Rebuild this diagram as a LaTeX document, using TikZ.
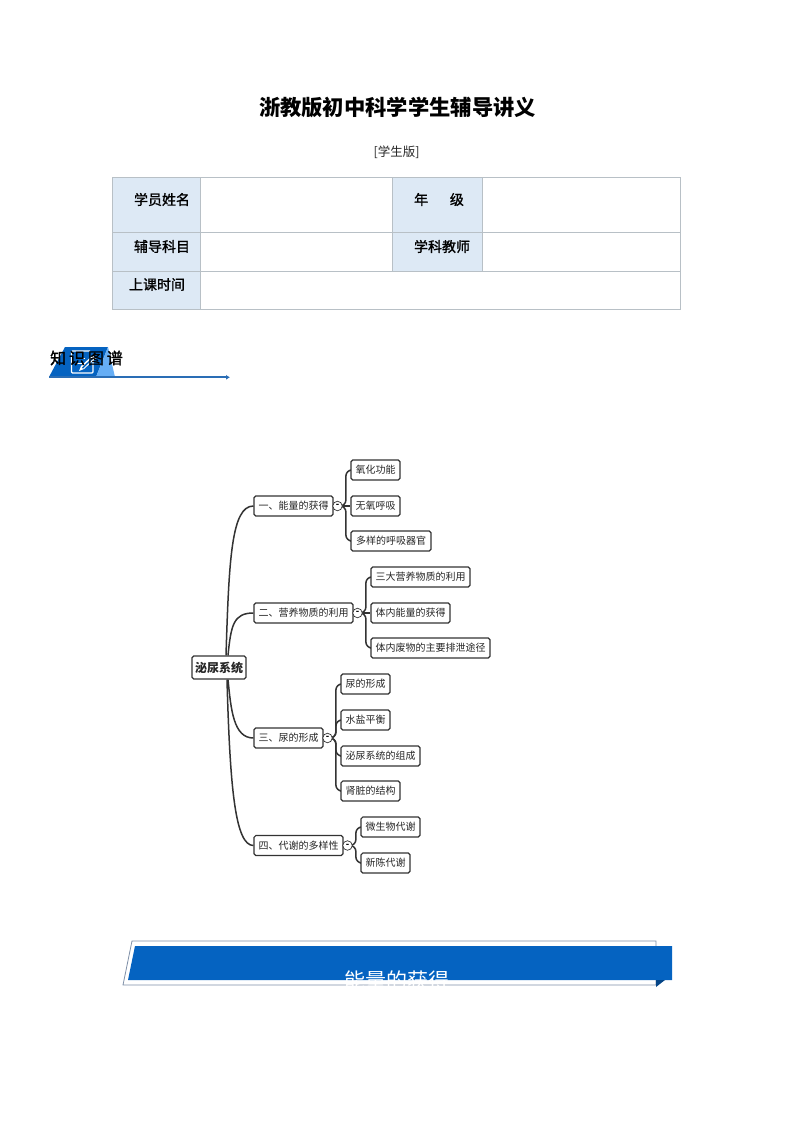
\documentclass[tikz,border=0pt]{standalone}
\usepackage{fontspec}
\setmainfont{Noto Sans CJK SC}
\newfontfamily\semibold[FakeBold=1.3]{Noto Sans CJK SC}
\usetikzlibrary{arrows.meta}
\pgfdeclarelayer{linklayer}
\pgfsetlayers{linklayer,main}
\definecolor{cellblue}{HTML}{DDE9F5}
\definecolor{rulegray}{HTML}{B8C0C6}
\definecolor{bannerblue}{HTML}{0563C1}
\definecolor{lightblue}{HTML}{66AEF5}
\definecolor{mapline}{HTML}{333333}
\definecolor{banneredge}{HTML}{7F90A8}
\definecolor{tagline}{HTML}{2A6DB5}
\tikzset{
  x=1pt,y=-1pt,
  lab/.style={font=\semibold\fontsize{14}{14}\selectfont,text=black,inner sep=0pt},
  mapbox/.style={draw=mapline,line width=1.15pt,rounded corners=1.8pt,fill=white,inner sep=0pt,
     font=\fontsize{10}{10}\selectfont,text=black!85,minimum height=20pt},
  rootbox/.style={mapbox,font=\fontsize{12}{12}\selectfont\bfseries,minimum height=23pt},
  toggle/.style={circle,draw=mapline,line width=.7pt,fill=white,minimum size=9.5pt,inner sep=0pt,font=\fontsize{9}{9}\selectfont\bfseries},
  link/.style={draw=mapline,line width=1.5pt},
  branch/.style={link,rounded corners=6pt},
  grid/.style={draw=rulegray,line width=1pt},
}
\begin{document}
\begin{tikzpicture}
\useasboundingbox (0,0) rectangle (794,1123);

% title
\node[inner sep=0pt,font=\fontsize{21.3}{22}\selectfont\bfseries] (title) at (397.5,107) {浙教版初中科学学生辅导讲义};
\node[inner sep=0pt,font=\fontsize{12.5}{13}\selectfont,text=black!85] (sub) at (396.5,152) {[学生版]};

% table
\fill[cellblue] (112,178) rectangle (200,309);
\fill[cellblue] (392,178) rectangle (482,271);
\draw[grid] (112,178) rectangle (680.5,309);
\draw[grid] (112,233) -- (680.5,233);
\draw[grid] (112,271) -- (680.5,271);
\draw[grid] (200,178) -- (200,309);
\draw[grid] (392,178) -- (392,271);
\draw[grid] (482,178) -- (482,271);
\node[lab] (t1) at (162,199.5) {学员姓名};
\node[lab] (t2) at (439,199.5) {年\hspace{1.55em}级};
\node[lab] (t3) at (162,246.5) {辅导科目};
\node[lab] (t4) at (442,246.5) {学科教师};
\node[lab] (t5) at (157,284.5) {上课时间};

% section tag
\fill[bannerblue] (49,377) -- (65,347) -- (108,347) -- (96,377) -- cycle;
\fill[lightblue] (96,377) -- (108,347) -- (115,377) -- cycle;
\draw[white,line width=1.4pt,rounded corners=1pt] (93,359) -- (93,373) -- (71.5,373) -- (71.5,351) -- (90,351);
\draw[white,line width=1pt] (76,358) -- (85,358) (76,363) -- (82,363);
\fill[white] (79,371) -- (81,366) -- (93,355) -- (96,358) -- (84,369) -- cycle;
\fill[bannerblue] (82,367.5) -- (92.5,357.5) -- (93.5,358.5) -- (83,368.5) -- cycle;
\coordinate (tagstart) at (49,377.3);
\coordinate (tagend) at (230,377.3);
\draw[draw=tagline,line width=2.2pt,-{Latex[length=4pt,width=5pt]}] (tagstart) -- (tagend);
\node[inner sep=0pt,font=\semibold\fontsize{16}{16}\selectfont,text=black] (tagtext) at (86.5,358) {知\hspace{.18em}识\hspace{.18em}图\hspace{.18em}谱};

% mind map
\node[rootbox,minimum width=54pt] (root) at (219,667.5) {泌尿系统};

\node[mapbox,minimum width=79pt] (n1) at (293.5,506) {一、能量的获得};
\node[mapbox,minimum width=99pt] (n2) at (303.5,613) {二、营养物质的利用};
\node[mapbox,minimum width=69pt] (n3) at (288.5,738) {三、尿的形成};
\node[mapbox,minimum width=89pt] (n4) at (298.5,845.5) {四、代谢的多样性};

\node[toggle] (s1) at (337.5,506) {-};
\node[toggle] (s2) at (357.5,613) {-};
\node[toggle] (s3) at (327.5,738) {-};
\node[toggle] (s4) at (347.5,845.5) {-};

\node[mapbox,minimum width=49pt] (a1) at (375.5,470) {氧化功能};
\node[mapbox,minimum width=49pt] (a2) at (375.5,506) {无氧呼吸};
\node[mapbox,minimum width=80pt] (a3) at (391,541) {多样的呼吸器官};

\node[mapbox,minimum width=99pt] (b1) at (420.5,577) {三大营养物质的利用};
\node[mapbox,minimum width=79pt] (b2) at (410.5,613) {体内能量的获得};
\node[mapbox,minimum width=119pt] (b3) at (430.5,648) {体内废物的主要排泄途径};

\node[mapbox,minimum width=49pt] (c1) at (365.5,684) {尿的形成};
\node[mapbox,minimum width=49pt] (c2) at (365.5,720) {水盐平衡};
\node[mapbox,minimum width=79pt] (c3) at (380.5,756) {泌尿系统的组成};
\node[mapbox,minimum width=59pt] (c4) at (370.5,791) {肾脏的结构};

\node[mapbox,minimum width=59pt] (d1) at (390.5,827) {微生物代谢};
\node[mapbox,minimum width=49pt] (d2) at (385.5,863) {新陈代谢};

\begin{pgfonlayer}{linklayer}
\fill[white] (0,0) rectangle (794,1123);
\draw[link] ([xshift=7pt]root.north) .. controls +(3,-96) and +(-22,0) .. (n1.west);
\draw[link] ([xshift=9pt]root.north) .. controls +(3,-30) and +(-20,0) .. (n2.west);
\draw[link] ([xshift=9pt]root.south) .. controls +(3,30) and +(-20,0) .. (n3.west);
\draw[link] ([xshift=8pt]root.south) .. controls +(3,110) and +(-18,0) .. (n4.west);

\draw[branch] (s1.east) -- ++(3.3,0) |- (a1.west);
\draw[link] (s1.east) -- (a2.west);
\draw[branch] (s1.east) -- ++(3.3,0) |- (a3.west);

\draw[branch] (s2.east) -- ++(3.3,0) |- (b1.west);
\draw[link] (s2.east) -- (b2.west);
\draw[branch] (s2.east) -- ++(3.3,0) |- (b3.west);

\draw[branch] (s3.east) -- ++(3.3,0) |- (c1.west);
\draw[branch] (s3.east) -- ++(3.3,0) |- (c2.west);
\draw[branch] (s3.east) -- ++(3.3,0) |- (c3.west);
\draw[branch] (s3.east) -- ++(3.3,0) |- (c4.west);

\draw[branch] (s4.east) -- ++(3.3,0) |- (d1.west);
\draw[branch] (s4.east) -- ++(3.3,0) |- (d2.west);
\end{pgfonlayer}

% banner
\fill[white] (132,941) -- (656,941) -- (656,985) -- (123,985) -- cycle;
\draw[color=banneredge,line width=.8pt] (132,941) -- (656,941) -- (656,985) -- (123,985) -- cycle;
\fill[bannerblue] (135,946) -- (672,946) -- (672,980) -- (128,980) -- cycle;
\fill[bannerblue!70!black] (656,980) -- (665,980) -- (656,987) -- cycle;
\node[inner sep=0pt,font=\fontsize{21}{21}\selectfont,text=white] (bannertext) at (397,980) {能量的获得};
\end{tikzpicture}
\end{document}
